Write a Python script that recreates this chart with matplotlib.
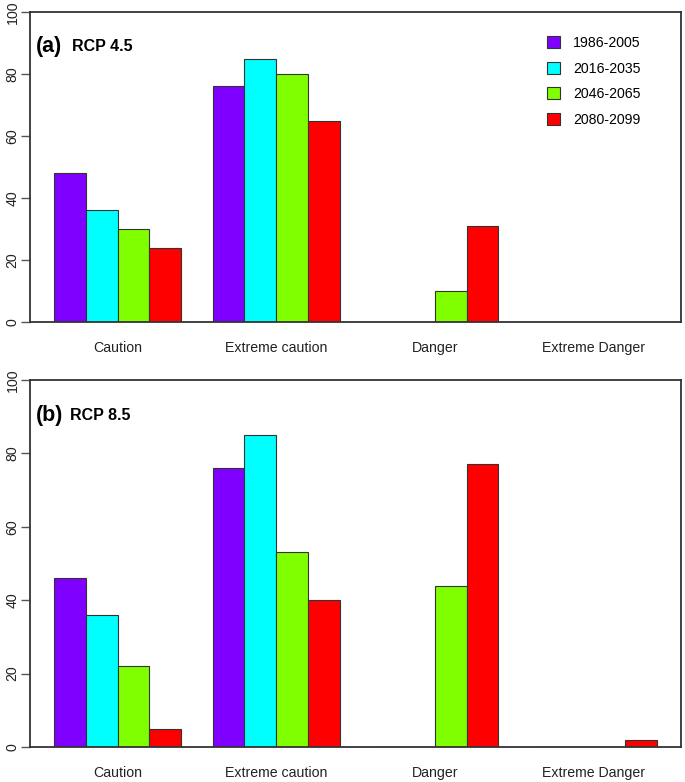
import matplotlib
matplotlib.use("Agg")
import matplotlib.pyplot as plt
from matplotlib.patches import Patch

plt.rcParams['font.family'] = ['Liberation Sans', 'DejaVu Sans']

categories = ["Caution", "Extreme caution", "Danger", "Extreme Danger"]
periods = ["1986-2005", "2016-2035", "2046-2065", "2080-2099"]
colors = ["#8000FF", "#00FFFF", "#80FF00", "#FF0000"]

rcp45 = [
    [48, 76, 0, 0],    # 1986-2005
    [36, 85, 0, 0],    # 2016-2035
    [30, 80, 10, 0],   # 2046-2065
    [24, 65, 31, 0],   # 2080-2099
]
rcp85 = [
    [46, 76, 0, 0],
    [36, 85, 0, 0],
    [22, 53, 44, 0],
    [5, 40, 77, 2],
]
yticks = [0, 20, 40, 60, 80, 100]

W, H = 685, 782
fig = plt.figure(figsize=(W / 100, H / 100), dpi=100)

def px_axes(x0, y0, x1, y1):
    return fig.add_axes([x0 / W, 1 - y1 / H, (x1 - x0) / W, (y1 - y0) / H])

ax_a = px_axes(30, 12, 681, 322)
ax_b = px_axes(30, 380, 681, 747)

def draw(ax, data):
    ngroups = len(categories)
    nser = len(periods)
    for j in range(nser):
        lefts = [1 + g * (nser + 1) + j for g in range(ngroups)]
        ax.bar(lefts, data[j], width=1.0, align='edge', color=colors[j],
               edgecolor='#333333', linewidth=0.8, zorder=2)
    centers = [1 + g * (nser + 1) + nser / 2 for g in range(ngroups)]
    total = ngroups * (nser + 1)
    ext = 0.04 * (total - 1)
    ax.set_xlim(1 - ext, total + ext)
    ax.set_ylim(0, 100)
    ax.set_xticks(centers)
    ax.set_xticklabels(categories, fontsize=10.2, color='#222222')
    ax.tick_params(axis='x', length=0, pad=14)
    ax.set_yticks(yticks)
    ax.set_yticklabels([str(v) for v in yticks], fontsize=10.2, color='#222222')
    ax.tick_params(axis='y', labelrotation=90, length=6.5, width=1.0,
                   color='#555555', pad=1)
    for lab in ax.get_yticklabels():
        lab.set_va('center')
    for sp in ax.spines.values():
        sp.set_linewidth(1.3)
        sp.set_color('#333333')

draw(ax_a, rcp45)
draw(ax_b, rcp85)

fig.text(36 / W, 1 - 52 / H, "(a)", fontsize=15.5, fontweight='bold', va='baseline')
fig.text(72 / W, 1 - 51 / H, "RCP 4.5", fontsize=11.5, fontweight='bold', va='baseline')
fig.text(36 / W, 1 - 421 / H, "(b)", fontsize=15.5, fontweight='bold', va='baseline')
fig.text(70 / W, 1 - 420 / H, "RCP 8.5", fontsize=11.5, fontweight='bold', va='baseline')

handles = [Patch(facecolor=c, edgecolor='#333333', linewidth=0.8) for c in colors]
ax_a.legend(handles, periods, loc='upper left',
            bbox_to_anchor=(547 / W, 1 - 36 / H), bbox_transform=fig.transFigure,
            frameon=False, fontsize=10.2, handlelength=0.9, handleheight=0.9,
            handletextpad=0.95, labelspacing=0.82, borderpad=0, borderaxespad=0)

fig.savefig("out.png", dpi=100)
